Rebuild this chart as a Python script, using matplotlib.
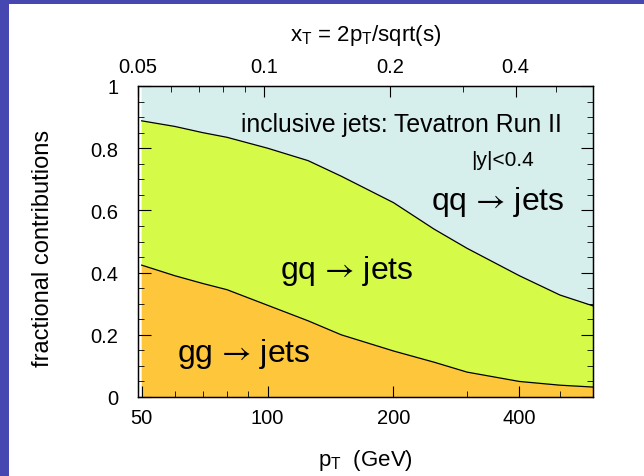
import numpy as np
import matplotlib
matplotlib.use("Agg")
import matplotlib.pyplot as plt
from matplotlib.patches import Rectangle

plt.rcParams['font.family'] = ['Liberation Sans', 'DejaVu Sans']
plt.rcParams['mathtext.fontset'] = 'stixsans'

# jet pT (GeV) and fractional contributions
pt = [50, 60, 70, 80, 100, 125, 150, 200, 250, 300, 400, 500, 600]
gg = [0.424, 0.39, 0.365, 0.345, 0.295, 0.245, 0.20, 0.148, 0.112, 0.08, 0.05, 0.038, 0.032]
gq = [0.464, 0.48, 0.485, 0.49, 0.505, 0.515, 0.51, 0.477, 0.428, 0.398, 0.34, 0.29, 0.261]
qq = [1 - a - b for a, b in zip(gg, gq)]

sqrt_s = 1960.0
pt_ticks = [50, 100, 200, 400]
pt_minor = [60, 70, 80, 90, 300, 500]
xt_ticks = [0.05, 0.1, 0.2, 0.4]
xt_minor = [0.06, 0.07, 0.08, 0.09, 0.3, 0.5]
y_ticks = [0, 0.2, 0.4, 0.6, 0.8, 1]

c_gg = '#fec63a'
c_gq = '#d6fa48'
c_qq = '#d6eeec'

fig = plt.figure(figsize=(6.44, 4.77), dpi=100)
fig.patch.set_facecolor('#4747b2')
fig.patches.append(Rectangle((9 / 644, 0), 1, 472 / 477, transform=fig.transFigure,
                             facecolor='white', edgecolor='none', zorder=-10))

ax = fig.add_axes([138 / 644, 79 / 477, 455 / 644, 311 / 477])
ax.set_xscale('log')
ax.stackplot(pt, gg, gq, qq, colors=[c_gg, c_gq, c_qq], linewidth=0)
lower = np.array(gg)
upper = lower + np.array(gq)
ax.plot(pt, lower, color='black', lw=0.9)
ax.plot(pt, upper, color='black', lw=0.9)

ax.set_xlim(49, 600)
ax.set_ylim(0, 1)

ax.set_xticks(pt_ticks, [str(t) for t in pt_ticks])
ax.set_xticks(pt_minor, minor=True)
ax.set_xticklabels([], minor=True)
ax.set_yticks(y_ticks, ['0', '0.2', '0.4', '0.6', '0.8', '1'])
ax.set_yticks(np.arange(0, 1.001, 0.05), minor=True)
ax.tick_params(which='both', direction='in', top=False, right=True, labelsize=14.5)
ax.tick_params(axis='x', which='major', length=8, pad=8)
ax.tick_params(axis='y', which='major', length=9, pad=14)
ax.tick_params(which='minor', length=4.5)
for s in ax.spines.values():
    s.set_linewidth(1.0)

ax2 = ax.twiny()
ax2.set_xscale('log')
ax2.set_xlim(49 * 2 / sqrt_s, 600 * 2 / sqrt_s)
ax2.set_xticks(xt_ticks, [str(t) for t in xt_ticks])
ax2.set_xticks(xt_minor, minor=True)
ax2.set_xticklabels([], minor=True)
ax2.tick_params(which='both', direction='in', labelsize=14.5)
ax2.tick_params(which='major', length=8, pad=7)
ax2.tick_params(which='minor', length=4.5)

ax.set_xlabel('p$_{\\mathregular{T}}$  (GeV)', fontsize=16, va='center')
ax.xaxis.set_label_coords(0.5, -0.2)
ax2.set_xlabel('x$_{\\mathregular{T}}$ = 2p$_{\\mathregular{T}}$/sqrt(s)', fontsize=16, va='center')
ax2.xaxis.set_label_coords(0.5, 1.167)
ax.set_ylabel('fractional contributions', fontsize=17, va='center')
ax.yaxis.set_label_coords(-0.209, 0.48)

ax.text(86.4, 0.878, 'inclusive jets: Tevatron Run II', fontsize=17.8, ha='left', va='center')
ax.text(306, 0.763, '|y|<0.4', fontsize=15, ha='left', va='center')
ax.text(246, 0.63, 'qq$\\,\\rightarrow\\,$jets', fontsize=23, ha='left', va='center')
ax.text(107, 0.407, 'gq$\\,\\rightarrow\\,$jets', fontsize=23, ha='left', va='center')
ax.text(60.6, 0.141, 'gg$\\,\\rightarrow\\,$jets', fontsize=23, ha='left', va='center')

fig.savefig('out.png', dpi=100, facecolor=fig.get_facecolor())
